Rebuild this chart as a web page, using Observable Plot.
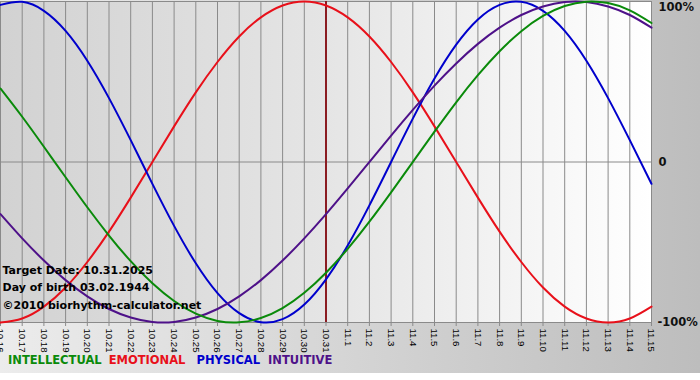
<!DOCTYPE html>
<html>
<head>
<meta charset="utf-8">
<script src="https://cdn.jsdelivr.net/npm/d3@7"></script>
<script src="https://cdn.jsdelivr.net/npm/@observablehq/plot@0.6"></script>
<style>
  body { margin: 0; background: #fff; }
  #legend { width: 692px; height: 20px; padding: 8px 0 0 8px; line-height: 20px;
    background: linear-gradient(to right, #ececec, #bdbdbd);
    font: bold 11.5px "DejaVu Sans", Verdana, sans-serif; box-sizing: content-box; white-space: nowrap; }
</style>
</head>
<body>
<div id="chart"></div>
<div id="legend"></div>
<script>
const days = ["10.16","10.17","10.18","10.19","10.20","10.21","10.22","10.23","10.24","10.25","10.26","10.27","10.28","10.29","10.30","10.31",
  "11.1","11.2","11.3","11.4","11.5","11.6","11.7","11.8","11.9","11.10","11.11","11.12","11.13","11.14","11.15"];
const targetDay = "10.31";
const intellectual = [0.458,0.282,0.095,-0.095,-0.282,-0.458,-0.618,-0.756,-0.866,-0.945,-0.990,-0.999,-0.972,-0.910,-0.815,-0.690,
  -0.541,-0.372,-0.189,0,0.189,0.372,0.541,0.690,0.815,0.910,0.972,0.999,0.990,0.945,0.866];
const emotional = [-1,-0.975,-0.901,-0.782,-0.623,-0.434,-0.222,0,0.222,0.434,0.623,0.782,0.901,0.975,1,0.975,
  0.901,0.782,0.623,0.434,0.222,0,-0.222,-0.434,-0.623,-0.782,-0.901,-0.975,-1,-0.975,-0.901];
const physical = [0.979,0.998,0.942,0.817,0.631,0.398,0.136,-0.136,-0.398,-0.631,-0.817,-0.942,-0.998,-0.979,-0.888,-0.731,
  -0.520,-0.270,0,0.270,0.520,0.731,0.888,0.979,0.998,0.942,0.817,0.631,0.398,0.136,-0.136];
const intuitive = [-0.325,-0.476,-0.614,-0.736,-0.837,-0.916,-0.969,-0.997,-0.997,-0.969,-0.916,-0.837,-0.736,-0.614,-0.476,-0.325,
  -0.165,0,0.165,0.325,0.476,0.614,0.736,0.837,0.916,0.969,0.997,0.997,0.969,0.916,0.837];
const seriesNames = ["INTELLECTUAL","EMOTIONAL","PHYSICAL","INTUITIVE"];
const seriesColors = ["#0a8a0a","#e8101a","#0000cc","#4e1189"];
const yTicks = [1, 0, -1];
const yTickLabels = ["100%", "0", "-100%"];
const infoLines = ["Target Date: 10.31.2025", "Day of birth 03.02.1944", "©2010 biorhythm-calculator.net"];

const seriesValues = [intellectual, emotional, physical, intuitive];
const idx = d3.range(days.length);
const targetIndex = days.indexOf(targetDay);

const lineMarks = [1, 2, 3, 0].map(k =>
  Plot.line(idx, {x: i => i, y: i => seriesValues[k][i], stroke: seriesColors[k], strokeWidth: 2, curve: "natural"}));

const infoStyle = {frameAnchor: "bottom-left", dx: 2, text: d => d, fontSize: 11, fontWeight: "bold", fontFamily: "DejaVu Sans", fill: "#000", lineAnchor: "middle"};
const labelStyle = {frameAnchor: "right", dx: 7, textAnchor: "start", fontSize: 11.5, fontWeight: "bold", fontFamily: "DejaVu Sans", fill: "#111"};

const plot = Plot.plot({
  width: 700, height: 345,
  marginLeft: 0, marginRight: 49, marginTop: 1, marginBottom: 23,
  style: {background: "linear-gradient(to right, #ececec, #bdbdbd)", fontFamily: "Liberation Sans, sans-serif", fontSize: "9.6px", color: "#000", overflow: "visible"},
  x: {domain: [0, days.length - 1], axis: null},
  y: {domain: [-1, 1], axis: null},
  marks: [
    Plot.frame({fill: "url(#plotbg)", stroke: null}),
    Plot.ruleX(idx, {x: i => i, stroke: "#8a8a8a", strokeWidth: 1}),
    Plot.ruleY([0], {stroke: "#8a8a8a", strokeWidth: 1}),
    Plot.frame({stroke: "#8a8a8a"}),
    Plot.axisX(idx, {tickFormat: i => days[i], tickRotate: 90, tickSize: 4, tickPadding: 2, stroke: "#8a8a8a", fill: "#000", fontSize: "9.6px", fontFamily: "Liberation Sans"}),
    Plot.ruleX([targetIndex], {stroke: "#8b1c22", strokeWidth: 2}),
    ...lineMarks,
    Plot.text([infoLines[0]], {...infoStyle, dy: -52}),
    Plot.text([infoLines[1]], {...infoStyle, dy: -35}),
    Plot.text([infoLines[2]], {...infoStyle, dy: -17}),
    Plot.text([0], {...labelStyle, y: i => yTicks[i], dy: 6, text: i => yTickLabels[i]}),
    Plot.text([1], {...labelStyle, y: i => yTicks[i], text: i => yTickLabels[i]}),
    Plot.text([2], {...labelStyle, dx: 6, y: i => yTicks[i], text: i => yTickLabels[i]})
  ]
});

d3.select(plot).insert("defs", ":first-child").html(
  '<linearGradient id="plotbg" x1="0" x2="1" y1="0" y2="0">' +
  '<stop offset="0" stop-color="#d2d2d2"/><stop offset="0.5" stop-color="#e5e5e5"/><stop offset="1" stop-color="#ffffff"/></linearGradient>');
document.getElementById("chart").appendChild(plot);

const legend = document.getElementById("legend");
const gaps = ["7px", "11px", "8px", "0px"];
seriesNames.forEach((n, k) => {
  const s = document.createElement("span");
  s.textContent = n;
  s.style.color = seriesColors[k];
  s.style.marginRight = gaps[k];
  legend.appendChild(s);
});
</script>
</body>
</html>
